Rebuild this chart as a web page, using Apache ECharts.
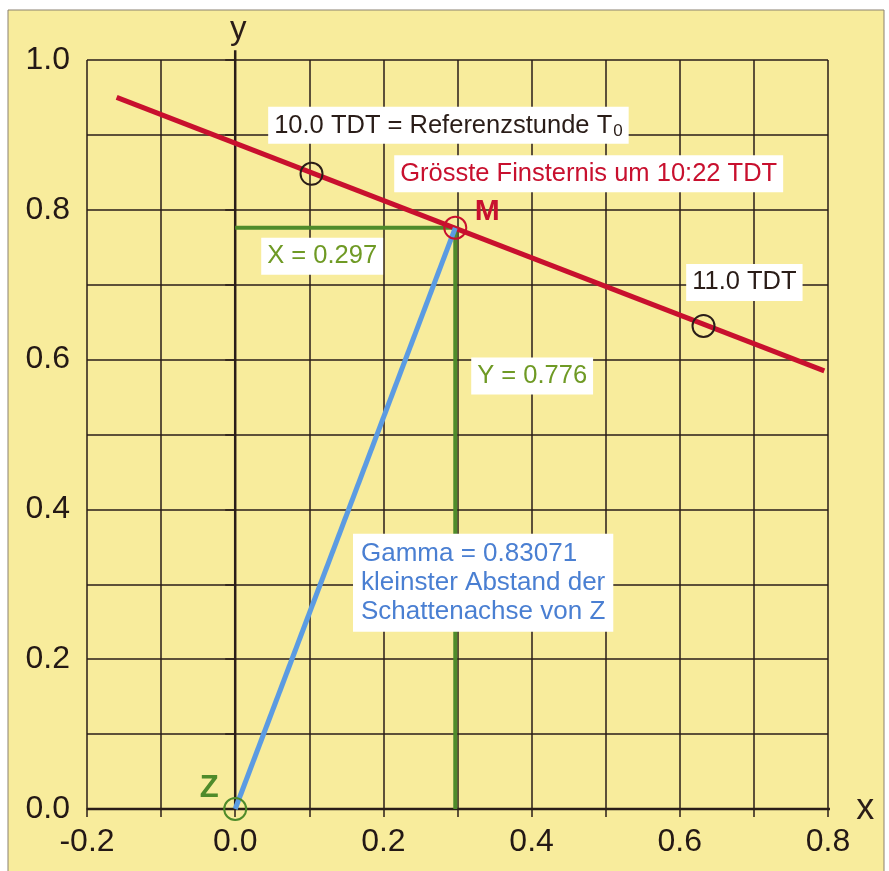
<!DOCTYPE html>
<html><head><meta charset="utf-8">
<script src="https://cdn.jsdelivr.net/npm/echarts/dist/echarts.min.js"></script>
<style>html,body{margin:0;padding:0;background:#fff}#c{width:889px;height:871px}</style>
</head><body><div id="c"></div>
<script>
// ---- data ----
const pathX = [-0.16, 0.795];
const pathY = [0.95, 0.585];
const hourLabels = ['10.0 TDT', '11.0 TDT'];
const hourX = [0.103, 0.632];
const hourY = [0.848, 0.645];
const maxX = 0.297;
const maxY = 0.776;
const gammaValue = '0.83071';
const maxTimeText = 'Grösste Finsternis um 10:22 TDT';
const refText = '10.0 TDT = Referenzstunde T';
const gammaLines = ['Gamma = ' + gammaValue, 'kleinster Abstand der', 'Schattenachse von Z'];

// ---- styles ----
const REG = '"Liberation Sans", Arial, Helvetica, sans-serif';
const INK = '#2a1d18';
const RED = '#c8102e';
const GREEN = '#4f8b2b';
const GREEN_TXT = '#6f9a25';
const BLUE = '#5b9be2';
const BLUE_TXT = '#4a7fd2';
const YELLOW = '#f8ec9c';

const fmt = v => (Math.round(v * 10) % 2 === 0 ? v.toFixed(1) : '');

function boxLabel(text, color, extra) {
  return Object.assign({
    show: true, position: 'right', distance: 0, formatter: text,
    color: color, fontFamily: REG, fontSize: 25.5, lineHeight: 28,
    backgroundColor: '#ffffff', padding: [5, 6, 4, 6]
  }, extra || {});
}

const annotations = [
  { value: [0.0445, 0.913], label: boxLabel('{a|' + refText + '}{s|0}', INK, {
      rich: { a: { fontFamily: REG, fontSize: 25.5, lineHeight: 28, color: INK },
              s: { fontFamily: REG, fontSize: 17, lineHeight: 28, color: INK, verticalAlign: 'bottom', padding: [0, 0, 0, 1] } } }) },
  { value: [0.2146, 0.848], label: boxLabel(maxTimeText, RED) },
  { value: [0.0351, 0.738], label: boxLabel('X = ' + maxX.toFixed(3), GREEN_TXT) },
  { value: [0.3185, 0.578], label: boxLabel('Y = ' + maxY.toFixed(3), GREEN_TXT) },
  { value: [0.6086, 0.703], label: boxLabel(hourLabels[1], INK) },
  { value: [0.159, 0.302], label: boxLabel(gammaLines.join('\n'), BLUE_TXT, {
      fontSize: 26, lineHeight: 29, padding: [6, 8, 5, 8] }) },
  { value: [0.340, 0.798], label: { show: true, position: 'inside', formatter: 'M', color: RED,
      fontFamily: REG, fontWeight: 'bold', fontSize: 30 } },
  { value: [-0.035, 0.028], label: { show: true, position: 'inside', formatter: 'Z', color: GREEN,
      fontFamily: REG, fontWeight: 'bold', fontSize: 31 } },
  { value: [0.004, 1.040], label: { show: true, position: 'inside', formatter: 'y', color: INK,
      fontFamily: REG, fontSize: 33 } }
];

const chart = echarts.init(document.getElementById('c'), null, { renderer: 'canvas' });
const axisCommon = {
  type: 'value', interval: 0.1,
  axisLine: { show: true, lineStyle: { color: INK, width: 1.5 } },
  axisTick: { show: true, inside: false, lineStyle: { color: INK, width: 1.5 } },
  splitLine: { show: true, lineStyle: { color: INK, width: 1.5 } },
  axisLabel: { formatter: fmt, color: '#231815', fontFamily: REG, fontSize: 32 }
};
const solid = { opacity: 1 };
chart.setOption({
  animation: false,
  backgroundColor: '#ffffff',
  graphic: [{ type: 'rect', z: -10, shape: { x: 8, y: 10, width: 876, height: 870 },
    style: { fill: YELLOW, stroke: '#8a8170', lineWidth: 1 } }],
  grid: { left: 87, right: 61, top: 60, bottom: 62, containLabel: false },
  xAxis: Object.assign({}, axisCommon, {
    min: -0.2, max: 0.8,
    axisTick: Object.assign({}, axisCommon.axisTick, { length: 8 }),
    axisLabel: Object.assign({}, axisCommon.axisLabel, { margin: 17 }),
    name: 'x', nameLocation: 'end', nameGap: 26,
    nameTextStyle: { color: INK, fontFamily: REG, fontSize: 36, verticalAlign: 'middle', align: 'left' }
  }),
  yAxis: Object.assign({}, axisCommon, {
    min: 0, max: 1.0,
    axisTick: Object.assign({}, axisCommon.axisTick, { length: 10 }),
    axisLabel: Object.assign({}, axisCommon.axisLabel, { margin: 17 })
  }),
  series: [
    { type: 'line', data: [[-0.2, 0], [0.815, 0]], symbol: 'none', clip: false, silent: true,
      lineStyle: { color: INK, width: 2.5 }, z: 3 },
    { type: 'line', data: [[0, 0], [0, 1.013]], symbol: 'none', clip: false, silent: true,
      lineStyle: { color: INK, width: 2.5 }, z: 3 },
    { type: 'line', data: [[0, maxY], [maxX, maxY], [maxX, 0]], symbol: 'none', silent: true,
      lineStyle: { color: GREEN, width: 4 }, z: 4 },
    { type: 'line', data: pathX.map((x, i) => [x, pathY[i]]), symbol: 'none', silent: true,
      lineStyle: { color: RED, width: 5 }, z: 5 },
    { type: 'line', data: [[0, 0], [maxX, maxY]], symbol: 'none', silent: true,
      lineStyle: { color: BLUE, width: 5 }, z: 6 },
    { type: 'scatter', data: hourX.map((x, i) => [x, hourY[i]]), symbol: 'circle', symbolSize: 22,
      itemStyle: { color: 'rgba(0,0,0,0)', borderColor: INK, borderWidth: 2, opacity: 1 }, z: 7, silent: true },
    { type: 'scatter', data: [[maxX, maxY]], symbol: 'circle', symbolSize: 22,
      itemStyle: { color: 'rgba(0,0,0,0)', borderColor: RED, borderWidth: 2, opacity: 1 }, z: 7, silent: true },
    { type: 'scatter', data: [[0, 0]], symbol: 'circle', symbolSize: 22, clip: false,
      itemStyle: { color: 'rgba(0,0,0,0)', borderColor: GREEN, borderWidth: 2, opacity: 1 }, z: 7, silent: true },
    { type: 'scatter', data: annotations, symbolSize: 0, clip: false, silent: true, z: 8,
      itemStyle: { color: 'rgba(0,0,0,0)', opacity: 1 } }
  ]
});
</script></body></html>
